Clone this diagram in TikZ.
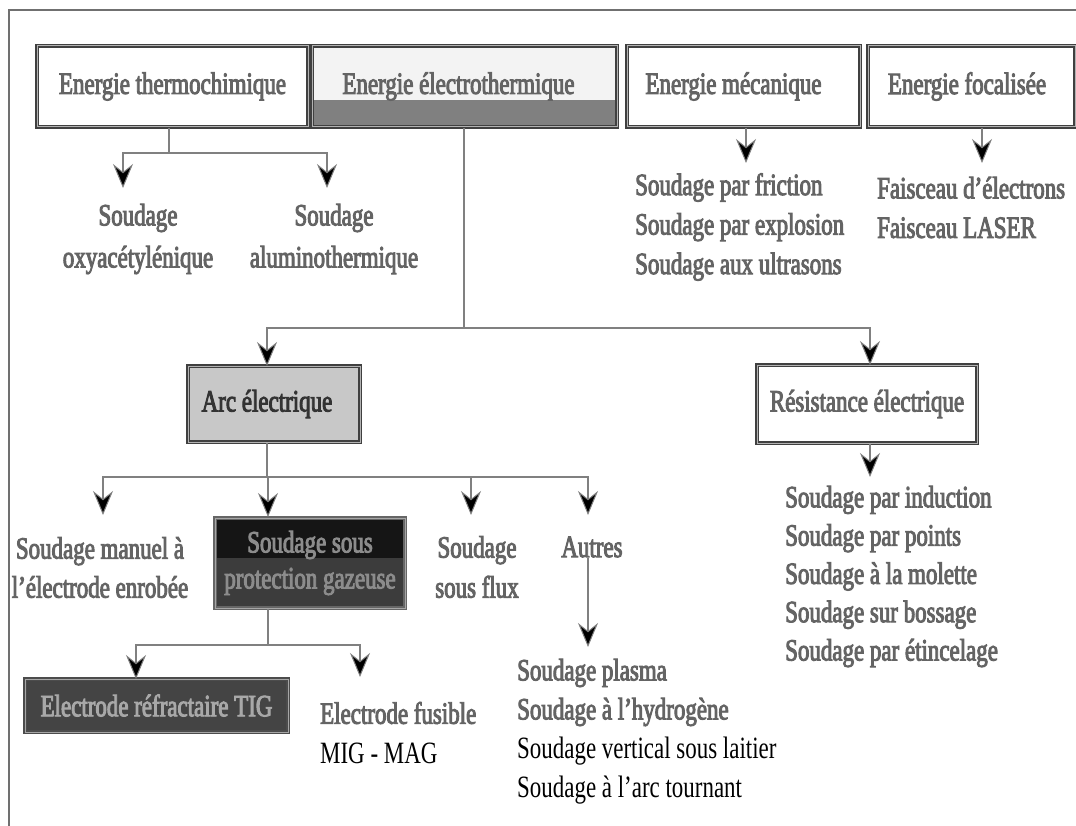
\documentclass[tikz,border=0pt]{standalone}
\usepackage{fontspec}
\setmainfont{Liberation Serif}[FakeStretch=0.74]
\newfontfamily\outl{Liberation Serif}[FakeStretch=0.74, FakeBold=3]
\usetikzlibrary{arrows.meta}
\definecolor{txtg}{HTML}{646464}
\definecolor{framec}{HTML}{707070}
\definecolor{linec}{HTML}{808080}
\definecolor{boxlight}{HTML}{F3F3F3}
\definecolor{boxgray}{HTML}{808080}
\definecolor{arcfill}{HTML}{C8C8C8}
\definecolor{protdark}{HTML}{151515}
\definecolor{protmid}{HTML}{3C3C3C}
\definecolor{tigfill}{HTML}{444444}
\definecolor{prottxt}{HTML}{8C8C8C}
\definecolor{tigtxt}{HTML}{A8A8A8}
\begin{document}
\begin{tikzpicture}[x=1pt,y=-1pt,
  every node/.style={font=\outl\fontsize{31}{39}\selectfont},
  conn/.style={draw=linec, line width=2pt},
  arr/.style={conn, -{Stealth[length=24pt,width=20pt,inset=8pt,fill=black,line width=1pt]}},
  box/.style={draw=black!75, double=black!30, double distance=1pt, line width=1.2pt, inner sep=0pt, text=txtg, align=center},
  lbl/.style={text=txtg, inner sep=0pt, align=center},
  lbll/.style={text=txtg, inner sep=0pt, align=left}
]
\useasboundingbox (0,0) rectangle (1076,826);
\fill[white] (0,0) rectangle (1076,826);
% frame
\draw[framec, line width=1.6pt] (9,826) -- (9,10) -- (1076,10);

% two-tone fills
\fill[boxlight] (312,46) rectangle (617,100);
\fill[boxgray] (312,100) rectangle (617,127);
\fill[protdark] (215,518) rectangle (405,558);
\fill[protmid] (215,558) rectangle (405,608);

% top boxes
\node[box, minimum width=271pt, minimum height=81pt] (thermo) at (172.5,86.5) {Energie thermochimique};
\node[box, minimum width=305pt, minimum height=81pt] (electro) at (464.5,86.5) {Energie électrothermique\hspace{12pt}};
\node[box, minimum width=233pt, minimum height=81pt] (meca) at (743.5,86.5) {Energie mécanique\hspace{20pt}};
\node[box, minimum width=207pt, minimum height=81pt] (focal) at (971.5,86.5) {Energie focalisée\hspace{9pt}};

% labels top
\node[lbl, font=\outl\fontsize{31}{42}\selectfont] (oxy) at (138,239) {Soudage\\oxyacétylénique};
\node[lbl, font=\outl\fontsize{31}{42}\selectfont] (alu) at (334,239) {Soudage\\aluminothermique};
\node[lbll, anchor=west, font=\outl\fontsize{31}{39.5}\selectfont] (mecal) at (635,227) {Soudage par friction\\Soudage par explosion\\Soudage aux ultrasons};
\node[lbll, anchor=west, font=\outl\fontsize{31}{39.5}\selectfont] (focl) at (877,207.5) {Faisceau d’électrons\\Faisceau LASER};

% middle boxes
\node[box, fill=arcfill, text=black!80, minimum width=172pt, minimum height=76pt] (arc) at (274,404) {Arc électrique\hspace{14pt}};
\node[box, minimum width=220pt, minimum height=78pt] (resist) at (867,404) {Résistance électrique};

% arc children
\node[lbl] (manuel) at (100,567.5) {Soudage manuel à\\l’électrode enrobée};
\node[box, draw=black!60, double=black!35, text=prottxt, minimum width=190pt, minimum height=90pt, font=\outl\fontsize{31}{36}\selectfont] (prot) at (310,563) {Soudage sous\\protection gazeuse};
\node[lbl, font=\outl\fontsize{31}{40}\selectfont] (flux) at (477,567) {Soudage\\sous flux};
\node[lbl] (autres) at (592,547) {Autres};

% resistance list
\node[lbll, anchor=west, font=\outl\fontsize{31}{38.3}\selectfont] (resl) at (785,576.5) {Soudage par induction\\Soudage par points\\Soudage à la molette\\Soudage sur bossage\\Soudage par étincelage};

% protection children
\node[box, fill=tigfill, draw=black!70, double=black!35, text=tigtxt, minimum width=263pt, minimum height=53pt] (tig) at (156.5,705.5) {Electrode réfractaire TIG};
\node[lbll, anchor=west, font=\outl\fontsize{31}{40}\selectfont] (fus) at (320,733) {Electrode fusible\\{\rmfamily\color{black}MIG - MAG}};

% autres list
\node[lbll, anchor=west, font=\outl\fontsize{31}{39}\selectfont] (autl) at (517,731.5) {Soudage plasma\\Soudage à l’hydrogène\\{\rmfamily\color{black}Soudage vertical sous laitier}\\{\rmfamily\color{black}Soudage à l’arc tournant}};

% junctions and arrow ends
\coordinate (jt) at (169,153);
\coordinate (oxyA) at (123,188);
\coordinate (aluA) at (327,188);
\coordinate (mecaA) at (746,163);
\coordinate (focA) at (982,163);
\coordinate (je) at (464,328);
\coordinate (arcA) at (267,366);
\coordinate (resA) at (870,365);
\coordinate (ja) at (267,477);
\coordinate (manA) at (103,515);
\coordinate (protA) at (268,517);
\coordinate (fluxA) at (471,515);
\coordinate (autA) at (588,515);
\coordinate (autLA) at (588,647);
\coordinate (resLA) at (870,477);
\coordinate (jp) at (268,645);
\coordinate (tigA) at (136,679);
\coordinate (fusA) at (360,677);

% connectors
\draw[conn] (jt |- thermo.south) -- (jt);
\draw[arr] (jt) -| (oxyA);
\draw[arr] (jt) -| (aluA);
\draw[arr] (mecaA |- meca.south) -- (mecaA);
\draw[arr] (focA |- focal.south) -- (focA);
\draw[conn] (je |- electro.south) -- (je);
\draw[arr] (je) -| (arcA);
\draw[arr] (je) -| (resA);
\draw[conn] (ja |- arc.south) -- (ja);
\draw[arr] (ja) -| (manA);
\draw[arr] (ja) -| (protA);
\draw[arr] (ja) -| (fluxA);
\draw[arr] (ja) -| (autA);
\draw[arr] (autLA |- autres.south) -- (autLA);
\draw[arr] (resLA |- resist.south) -- (resLA);
\draw[conn] (jp |- prot.south) -- (jp);
\draw[arr] (jp) -| (tigA);
\draw[arr] (jp) -| (fusA);
\end{tikzpicture}
\end{document}
